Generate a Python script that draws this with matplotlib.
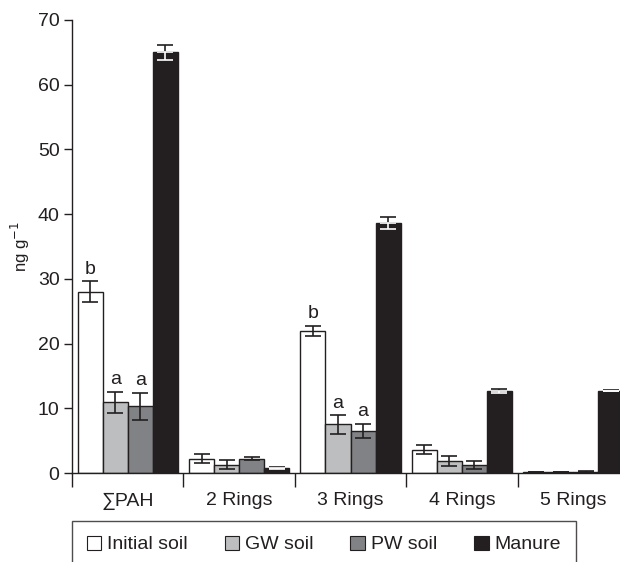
import matplotlib
matplotlib.use("Agg")
import matplotlib.pyplot as plt
from matplotlib.patches import Patch
import numpy as np

plt.rcParams['font.family'] = ['Liberation Sans Narrow', 'Liberation Sans', 'DejaVu Sans']

# data
categories = ['\u2211PAH', '2 Rings', '3 Rings', '4 Rings', '5 Rings']
series = ['Initial soil', 'GW soil', 'PW soil', 'Manure']
initial = [28.0, 2.2, 21.9, 3.6, 0.15]
initial_err = [1.6, 0.7, 0.8, 0.7, 0.05]
gw = [10.9, 1.3, 7.5, 1.9, 0.15]
gw_err = [1.6, 0.7, 1.4, 0.8, 0.05]
pw = [10.3, 2.2, 6.5, 1.2, 0.2]
pw_err = [2.1, 0.2, 1.1, 0.6, 0.05]
manure = [65.0, 0.75, 38.6, 12.7, 12.7]
manure_err = [1.2, 0.1, 0.9, 0.3, 0.1]
letters = {0: ['b', 'a', 'a', None], 2: ['b', 'a', 'a', None]}

values = [initial, gw, pw, manure]
errors = [initial_err, gw_err, pw_err, manure_err]
colors = ['#ffffff', '#bdbec0', '#818285', '#231f20']

fig = plt.figure(figsize=(6.2, 5.62), dpi=100)
ax = fig.add_axes([72/620, 89/562, 557/620, 453/562])

x = np.arange(len(categories))
w = 0.225
offs = [-1.5*w, -0.5*w, 0.5*w, 1.5*w]

for i in range(4):
    ax.bar(x + offs[i], values[i], w, color=colors[i], edgecolor='#231f20', linewidth=1, zorder=2)
    v = np.array(values[i]); e = np.array(errors[i])
    if i == 3:
        # lower half of the bar drawn in white on the dark bar
        ax.errorbar(x + offs[i], v, yerr=[np.zeros_like(e), e], fmt='none', ecolor='#231f20',
                    elinewidth=1.2, capsize=6, capthick=1.2, zorder=3)
        ax.errorbar(x + offs[i], v, yerr=[e, np.zeros_like(e)], fmt='none', ecolor='white',
                    elinewidth=1.2, capsize=6, capthick=1.2, zorder=3)
    else:
        ax.errorbar(x + offs[i], v, yerr=e, fmt='none', ecolor='#231f20',
                    elinewidth=1.2, capsize=6, capthick=1.2, zorder=3)

for ci, labs in letters.items():
    for i, lab in enumerate(labs):
        if lab:
            ax.text(ci + offs[i], values[i][ci] + errors[i][ci] + 0.6, lab,
                    ha='center', va='bottom', fontsize=14, color='#231f20')

ax.set_xlim(-0.5, 4.5)
ax.set_ylim(0, 70)
ax.set_yticks(range(0, 71, 10))
ax.tick_params(axis='y', direction='out', length=6, width=1, labelsize=14, colors='#231f20', pad=3)
ax.set_xticks(x)
ax.set_xticklabels(categories, fontsize=14, color='#231f20')
ax.tick_params(axis='x', which='major', length=0, pad=14)
ax.set_xticks(np.arange(-0.5, 4.5, 1), minor=True)
ax.tick_params(axis='x', which='minor', direction='out', length=10, width=1, color='#231f20')
for s in ['top', 'right']:
    ax.spines[s].set_visible(False)
for s in ['left', 'bottom']:
    ax.spines[s].set_color('#231f20')
    ax.spines[s].set_linewidth(1)

fig.text(20/620, 1 - 247/562, 'ng g$^{-1}$', rotation=90, ha='center', va='center',
         fontsize=12, color='#231f20')

handles = [Patch(facecolor=c, edgecolor='#231f20', linewidth=0.8) for c in colors]
leg = fig.legend(handles, series, loc='upper left', bbox_to_anchor=(72/620, 1 - 521/562),
                 ncol=4, fontsize=14, frameon=True, fancybox=False, borderaxespad=0,
                 handlelength=0.75, handleheight=0.75, handletextpad=0.3,
                 columnspacing=1.9, borderpad=0.75)
leg.get_frame().set_edgecolor('#231f20')
leg.get_frame().set_linewidth(1)
for t in leg.get_texts():
    t.set_color('#231f20')

fig.savefig('out.png', dpi=100)
